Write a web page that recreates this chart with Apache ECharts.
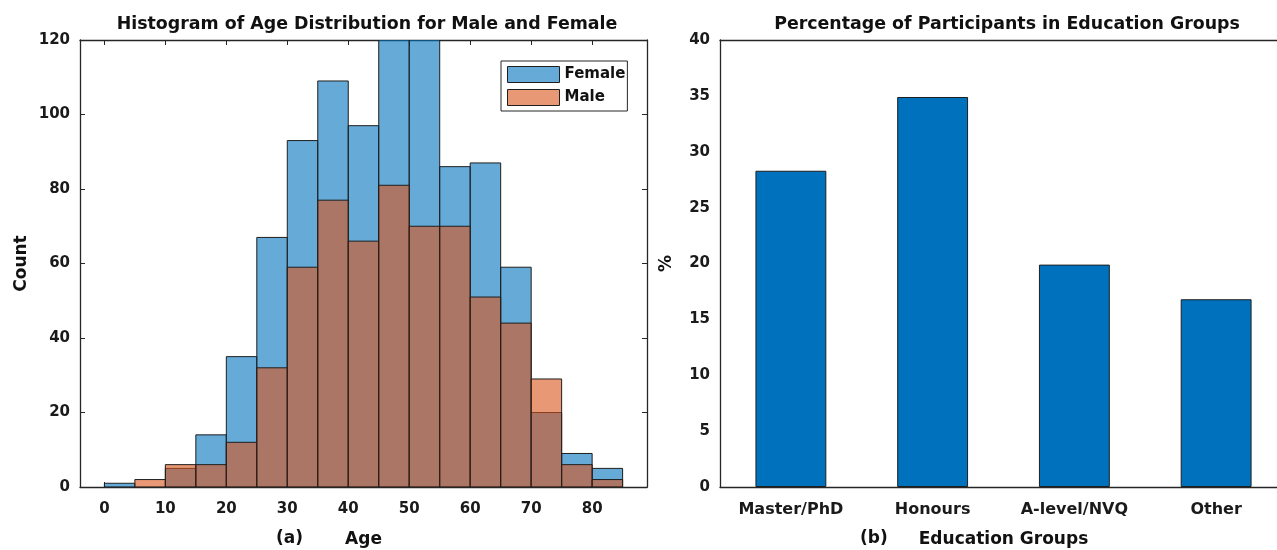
<!DOCTYPE html>
<html>
<head>
<meta charset="utf-8">
<script src="https://cdn.jsdelivr.net/npm/echarts@6/dist/echarts.min.js"></script>
<style>
html,body{margin:0;padding:0;background:#fff;}
#chart{width:1277px;height:550px;}
</style>
</head>
<body>
<div id="chart"></div>
<script>
// ---- Data ----
const ageBinEdges = [0,5,10,15,20,25,30,35,40,45,50,55,60,65,70,75,80,85];
const femaleCounts = [1,0,5,14,35,67,93,109,97,126,122,86,87,59,20,9,5];
const maleCounts   = [0,2,6,6,12,32,59,77,66,81,70,70,51,44,29,6,2];
const ageTicks = [0,10,20,30,40,50,60,70,80];

const eduGroups = ['Master/PhD','Honours','A-level/NVQ','Other'];
const eduPercent = [28.3,34.9,19.9,16.8];

// ---- Chart ----
const FONT = "'DejaVu Sans', 'Liberation Sans', Arial, sans-serif";
const AX = '#262626';
const chart = echarts.init(document.getElementById('chart'));

function histData(counts){
  return counts.map((c,i)=>[ageBinEdges[i], ageBinEdges[i+1], c]);
}
function makeRender(fill){
  return function(params, api){
    const x0 = api.value(0), x1 = api.value(1), v = api.value(2);
    if (!v) return null;
    const p0 = api.coord([x0, v]);
    const p1 = api.coord([x1, 0]);
    return {
      type:'rect',
      shape:{x:p0[0], y:p0[1], width:p1[0]-p0[0], height:p1[1]-p0[1]},
      style:{fill:fill, stroke:'#1e1e1e', lineWidth:1}
    };
  };
}

const tickStyle = {inside:true, length:5, lineStyle:{color:AX, width:1}};
const lineStyle = {show:true, onZero:false, lineStyle:{color:AX, width:1.3}};
const labelStyle = {color:'#1a1a1a', fontSize:15, fontWeight:'bold', fontFamily:FONT};
const nameStyle = {fontSize:17, fontWeight:'bold', color:'#111', fontFamily:FONT};

const option = {
  backgroundColor:'#fff',
  animation:false,
  textStyle:{fontFamily:FONT},
  title:[
    {text:'Histogram of Age Distribution for Male and Female', left:362, top:11, textAlign:'center',
     textStyle:{fontSize:17.4, fontWeight:'bold', color:'#111', fontFamily:FONT}},
    {text:'Percentage of Participants in Education Groups', left:1002, top:11, textAlign:'center',
     textStyle:{fontSize:17.4, fontWeight:'bold', color:'#111', fontFamily:FONT}}
  ],
  legend:{
    data:[
      {name:'Female', icon:'rect', itemStyle:{color:'rgba(0,114,189,0.6)', borderColor:'#1e1e1e', borderWidth:1}},
      {name:'Male', icon:'rect', itemStyle:{color:'rgba(217,83,25,0.6)', borderColor:'#1e1e1e', borderWidth:1}}
    ],
    orient:'vertical', left:501, top:61,
    itemWidth:52, itemHeight:16, itemGap:6,
    padding:[5,2,5,6],
    borderColor:AX, borderWidth:1, backgroundColor:'#fff',
    textStyle:{fontSize:15, fontWeight:'bold', color:'#111', fontFamily:FONT},
    selectedMode:false
  },
  graphic:[
    {type:'text', left:276, top:530, style:{text:'(a)', fill:'#111', font:"bold 17px 'DejaVu Sans', sans-serif"}},
    {type:'text', left:860, top:530, style:{text:'(b)', fill:'#111', font:"bold 17px 'DejaVu Sans', sans-serif"}}
  ],
  grid:[
    {left:80, top:40, right:630, bottom:63, show:false, containLabel:false, outerBoundsMode:'none'},
    {left:720, top:40, right:-10, bottom:63, show:false, containLabel:false, outerBoundsMode:'none'}
  ],
  xAxis:[
    {gridIndex:0, type:'value', min:-4, max:89, position:'bottom',
     name:'Age', nameLocation:'middle', nameGap:44, nameTextStyle:nameStyle,
     axisLine:lineStyle, axisTick:Object.assign({customValues:ageTicks}, tickStyle),
     axisLabel:Object.assign({customValues:ageTicks, margin:15}, labelStyle), splitLine:{show:false}},
    {gridIndex:0, type:'value', min:-4, max:89, position:'top',
     axisLine:lineStyle, axisTick:Object.assign({customValues:ageTicks}, tickStyle),
     axisLabel:{show:false}, splitLine:{show:false}},
    {gridIndex:1, type:'category', data:eduGroups, position:'bottom',
     name:'Education Groups', nameLocation:'middle', nameGap:44, nameTextStyle:nameStyle,
     axisLine:lineStyle, axisTick:Object.assign({alignWithLabel:true}, tickStyle),
     axisLabel:Object.assign({margin:15, interval:0, hideOverlap:false}, labelStyle, {fontSize:16}), splitLine:{show:false}},
    {gridIndex:1, type:'category', data:eduGroups, position:'top',
     axisLine:lineStyle, axisTick:Object.assign({alignWithLabel:true}, tickStyle),
     axisLabel:{show:false}, splitLine:{show:false}}
  ],
  yAxis:[
    {gridIndex:0, type:'value', min:0, max:120, interval:20, position:'left',
     name:'Count', nameLocation:'middle', nameGap:50, nameTextStyle:nameStyle,
     axisLine:lineStyle, axisTick:tickStyle, axisLabel:Object.assign({margin:10}, labelStyle), splitLine:{show:false}},
    {gridIndex:0, type:'value', min:0, max:120, interval:20, position:'right',
     axisLine:lineStyle, axisTick:tickStyle, axisLabel:{show:false}, splitLine:{show:false}},
    {gridIndex:1, type:'value', min:0, max:40, interval:5, position:'left',
     name:'%', nameLocation:'middle', nameGap:45, nameTextStyle:nameStyle,
     axisLine:lineStyle, axisTick:tickStyle, axisLabel:Object.assign({margin:10}, labelStyle), splitLine:{show:false}},
    {gridIndex:1, type:'value', min:0, max:40, interval:5, position:'right',
     axisLine:lineStyle, axisTick:tickStyle, axisLabel:{show:false}, splitLine:{show:false}}
  ],
  series:[
    {name:'Female', type:'custom', xAxisIndex:0, yAxisIndex:0, clip:true,
     renderItem:makeRender('rgba(0,114,189,0.6)'), encode:{x:[0,1], y:2},
     itemStyle:{color:'rgba(0,114,189,0.6)'}, data:histData(femaleCounts), z:2},
    {name:'Male', type:'custom', xAxisIndex:0, yAxisIndex:0, clip:true,
     renderItem:makeRender('rgba(217,83,25,0.6)'), encode:{x:[0,1], y:2},
     itemStyle:{color:'rgba(217,83,25,0.6)'}, data:histData(maleCounts), z:3},
    {name:'Education', type:'bar', xAxisIndex:2, yAxisIndex:2, barWidth:'50%',
     itemStyle:{color:'#0072BD', borderColor:'#1e1e1e', borderWidth:1},
     data:eduPercent}
  ]
};
chart.setOption(option);
</script>
</body>
</html>
